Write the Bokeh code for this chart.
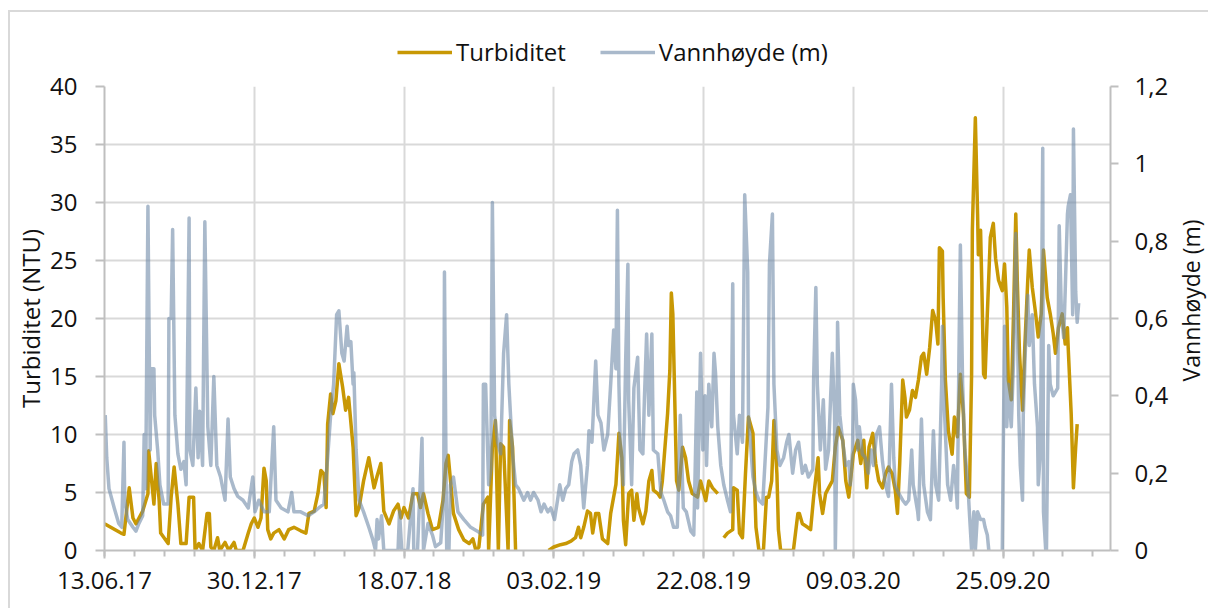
import math
import numpy as np
from bokeh.plotting import figure
from bokeh.layouts import column, row
from bokeh.models import Range1d, LinearAxis, FixedTicker, Legend, LegendItem
from bokeh.core.properties import value
from bokeh.embed import file_html
from bokeh.resources import INLINE

NaN = float("nan")

# x values: days after 13.06.17
x_tick_days = [0, 200, 400, 600, 800, 1000, 1200]
x_tick_labels = ["13.06.17", "30.12.17", "18.07.18", "03.02.19", "22.08.19", "09.03.20", "25.09.20"]
x_minor_days = list(range(0, 1341, 40))
x_end_day = 1343.5

left_ticks = [0, 5, 10, 15, 20, 25, 30, 35, 40]
left_labels = ["0", "5", "10", "15", "20", "25", "30", "35", "40"]
right_ticks = [0, 0.2, 0.4, 0.6, 0.8, 1, 1.2]
right_labels = ["0", "0,2", "0,4", "0,6", "0,8", "1", "1,2"]
left_title = "Turbiditet (NTU)"
right_title = "Vannhøyde (m)"
series_names = ["Turbiditet", "Vannhøyde (m)"]

# Turbiditet (NTU)
turb_day = [0, 22, 26, 33, 38, 42, 51, 58, 59, 62, 66, 69, 73, 75, 85, 89, 93, 98, 102, 109,
            113, 119, 121, 126, 131, 137, 140, 142, 146, 151, 154, 161, 166, 173, 176, 185, 192, 196, 200, 205,
            209, 213, 216, 218, 222, 226, 233, 240, 246, 253, 262, 269, 273, 280, 285, 289, 293, 296, 298, 302,
            305, 309, 313, 318, 322, 326, 332, 336, 340, 346, 353, 360, 364, 369, 373, 380, 386, 392, 396, 400,
            406, 412, 418, 422, 426, 432, 438, 446, 452, 456, 459, 463, 466, 473, 480, 487, 492, 496, 500, 506,
            512, 513, 518, 522, 526, 529, 533, 539, 541, 545, 549, 570, 593, 600, 609, 616, 623, 629, 633, 636,
            640, 645, 649, 652, 656, 660, 665, 672, 676, 683, 687, 691, 693, 696, 700, 704, 707, 711, 713, 719,
            723, 727, 731, 733, 739, 742, 745, 752, 755, 757, 759, 761, 764, 767, 772, 776, 780, 785, 792, 796,
            803, 807, 812, 819, 823, 827, 832, 839, 840, 845, 848, 852, 856, 860, 866, 870, 874, 880, 884, 887,
            891, 894, 898, 900, 903, 920, 926, 928, 932, 939, 943, 947, 953, 955, 959, 963, 967, 972, 976, 980,
            986, 990, 994, 1000, 1006, 1010, 1014, 1018, 1021, 1026, 1030, 1034, 1039, 1043, 1047, 1052, 1056, 1059, 1062, 1066,
            1069, 1071, 1075, 1079, 1083, 1087, 1091, 1094, 1098, 1102, 1106, 1110, 1113, 1115, 1119, 1120, 1123, 1127, 1132, 1135,
            1139, 1143, 1147, 1151, 1155, 1158, 1159, 1163, 1166, 1167, 1170, 1172, 1174, 1176, 1179, 1183, 1187, 1190, 1194, 1199,
            1202, 1205, 1207, 1211, 1214, 1217, 1219, 1222, 1226, 1229, 1233, 1235, 1239, 1243, 1247, 1251, 1254, 1259, 1263, 1267,
            1270, 1274, 1279, 1283, 1286, 1287, 1291, 1294, 1297, 1299]
turb_ntu = [2.3, 1.5, 1.4, 5.4, 2.8, 2.3, 3.4, 4.9, 8.6, 6.6, 4.0, 7.5, 4.3, 1.5, 0.6, 4.6, 7.2, 4.0, 0.6, 0.6,
            4.6, 4.6, 0, 0.6, 0, 3.2, 3.2, 0.3, 0, 1.1, 0, 0.7, 0, 0.7, 0, 0, 1.5, 2.3, 2.8, 2.0,
            2.8, 7.1, 6.0, 1.8, 1.0, 1.5, 1.8, 1.0, 1.8, 2.0, 1.7, 1.5, 3.2, 3.4, 4.9, 6.9, 6.6, 3.7, 10.9, 13.5,
            11.8, 12.9, 16.1, 14.1, 12.1, 13.2, 8.9, 3.0, 3.7, 6.0, 8.0, 5.4, 6.4, 7.5, 3.4, 2.3, 3.4, 4.0, 2.8, 3.7,
            2.8, 4.9, 4.9, 3.7, 4.9, 3.2, 1.8, 2.0, 4.3, 7.5, 8.2, 5.4, 3.2, 1.8, 0.9, 0.6, 1.0, 0, 0.3, 4.0,
            4.6, 0, 8.9, 11.2, 0, 9.2, 8.9, 0, 11.2, 8.9, 0, NaN, 0, 0.3, 0.5, 0.6, 0.8, 1.1, 2.0, 1.1,
            2.0, 3.4, 3.2, 1.5, 3.2, 3.2, 1.0, 0.6, 3.2, 5.7, 10.1, 8.0, 2.6, 0.5, 4.9, 5.2, 2.6, 4.9, 3.7, 2.3,
            3.4, 6.0, 6.9, 5.2, 4.9, 4.6, 6.0, 11.8, 15.5, 22.2, 20.4, 14.7, 6.0, 5.2, 8.9, 8.0, 6.0, 4.9, 4.6, 6.0,
            4.3, 6.0, 5.4, 4.9, NaN, 1.1, 1.5, 1.8, 5.4, 5.2, 1.5, 1.1, 6.6, 11.5, 10.1, 2.0, 0, 0, 4.6, 4.6,
            6.0, 11.2, 6.6, 1.8, 0, 0, 3.2, 3.2, 2.3, 2.0, 1.8, 4.6, 8.0, 4.9, 3.2, 4.9, 5.4, 6.0, 8.9, 10.6,
            9.5, 6.0, 4.6, 8.3, 9.5, 7.5, 9.5, 5.4, 8.9, 10.1, 7.5, 6.0, 5.4, 6.6, 7.2, 6.6, 5.2, 3.2, 7.5, 14.7,
            13.2, 11.5, 12.1, 13.8, 13.2, 14.7, 16.7, 17.0, 15.2, 17.5, 20.7, 19.8, 17.8, 26.1, 25.8, 21.8, 14.7, 10.3, 8.3, 11.5,
            9.8, 15.2, 11.8, 4.9, 4.6, 15.2, 27.6, 37.3, 29.0, 25.5, 27.6, 21.8, 15.2, 14.9, 20.4, 27.0, 28.2, 25.2, 23.3, 22.4,
            24.7, 21.0, 14.7, 13.0, 20.4, 29.0, 23.3, 17.0, 12.1, 17.5, 23.3, 25.9, 22.7, 20.7, 18.4, 20.4, 25.9, 21.8, 20.4, 18.7,
            17.0, 19.2, 20.4, 17.8, 19.2, 17.5, 11.8, 5.4, 8.9, 10.9]

# Vannhøyde (m)
level_day = [1, 3, 6, 13, 19, 23, 26, 27, 31, 38, 42, 46, 51, 53, 55, 58, 61, 62, 66, 67,
             71, 74, 79, 85, 86, 89, 91, 94, 98, 102, 106, 109, 113, 114, 118, 122, 125, 127, 131, 134,
             138, 142, 146, 150, 155, 161, 165, 168, 173, 178, 185, 192, 198, 201, 206, 213, 220, 226, 229, 236,
             245, 250, 253, 262, 272, 280, 286, 293, 298, 302, 306, 310, 313, 317, 320, 324, 326, 329, 332, 333,
             336, 340, 346, 353, 358, 362, 364, 366, 370, 373, 392, 394, 397, 405, 412, 413, 418, 424, 426, 432,
             438, 442, 449, 453, 454, 457, 460, 462, 466, 472, 480, 489, 498, 505, 506, 509, 513, 516, 518, 521,
             525, 529, 533, 537, 540, 545, 549, 553, 560, 565, 569, 573, 579, 583, 587, 592, 596, 601, 605, 608,
             612, 616, 620, 624, 627, 632, 636, 640, 645, 647, 651, 656, 659, 663, 667, 672, 676, 680, 683, 685,
             687, 689, 693, 696, 699, 700, 704, 707, 712, 715, 719, 721, 724, 727, 731, 733, 739, 743, 747, 752,
             756, 760, 765, 769, 773, 777, 783, 787, 791, 792, 796, 799, 802, 804, 807, 811, 814, 816, 819, 823,
             827, 832, 836, 839, 840, 845, 848, 852, 855, 859, 860, 866, 870, 874, 879, 883, 886, 888, 892, 894,
             898, 902, 907, 911, 914, 919, 923, 927, 932, 936, 940, 946, 947, 950, 952, 956, 960, 963, 967, 972,
             975, 976, 978, 979, 982, 986, 990, 994, 996, 999, 1000, 1003, 1006, 1008, 1012, 1016, 1020, 1024, 1027, 1031,
             1035, 1039, 1043, 1047, 1051, 1054, 1056, 1060, 1066, 1070, 1074, 1078, 1080, 1086, 1087, 1091, 1094, 1099, 1103, 1107,
             1110, 1114, 1118, 1119, 1122, 1126, 1130, 1134, 1137, 1139, 1141, 1143, 1146, 1149, 1153, 1155, 1158, 1161, 1163, 1166,
             1170, 1174, 1176, 1179, 1181, 1183, 1191, 1199, 1200, 1202, 1205, 1207, 1211, 1214, 1217, 1219, 1221, 1223, 1226, 1227,
             1230, 1233, 1235, 1239, 1242, 1246, 1247, 1250, 1253, 1254, 1257, 1258, 1261, 1263, 1267, 1273, 1275, 1278, 1281, 1283,
             1286, 1287, 1290, 1293, 1294, 1297, 1299, 1301]
level_m = [0.35, 0.24, 0.16, 0.11, 0.07, 0.06, 0.28, 0.13, 0.08, 0.06, 0.05, 0.07, 0.09, 0.30, 0.16, 0.89, 0.26, 0.47, 0.47, 0.35,
           0.26, 0.17, 0.12, 0.12, 0.60, 0.60, 0.83, 0.35, 0.25, 0.21, 0.23, 0.17, 0.86, 0.26, 0.22, 0.42, 0.24, 0.36, 0.22, 0.85,
           0.32, 0.22, 0.45, 0.22, 0.19, 0.13, 0.34, 0.19, 0.16, 0.14, 0.13, 0.11, 0.19, 0.10, 0.13, 0.10, 0.10, 0.32, 0.13, 0.11,
           0.10, 0.15, 0.10, 0.10, 0.09, 0.10, 0.11, 0.12, 0.24, 0.35, 0.43, 0.61, 0.62, 0.51, 0.49, 0.58, 0.53, 0.54, 0.43, 0.46,
           0.26, 0.13, 0.10, 0.06, 0.03, 0, 0.08, 0.03, 0.09, 0, 0, 0.10, 0, 0, 0.16, 0, 0, 0.29, 0, 0.07,
           0.04, 0.01, 0.02, 0.14, 0.72, 0, 0, 0.17, 0.19, 0.10, 0.08, 0.06, 0.05, 0.04, 0.43, 0.43, 0.17, 0.21, 0.90, 0.35,
           0.28, 0.25, 0.51, 0.61, 0.43, 0.25, 0.17, 0.16, 0.13, 0.15, 0.13, 0.15, 0.13, 0.10, 0.12, 0.10, 0.11, 0.08, 0.13, 0.17,
           0.13, 0.16, 0.17, 0.23, 0.25, 0.26, 0.22, 0.11, 0.22, 0.31, 0.28, 0.49, 0.35, 0.33, 0.26, 0.30, 0.43, 0.57, 0.47, 0.88,
           0.43, 0.26, 0.17, 0.49, 0.74, 0.39, 0.17, 0.42, 0.50, 0.26, 0.25, 0.39, 0.56, 0.35, 0.56, 0.26, 0.25, 0.15, 0.13, 0.10,
           0.09, 0.06, 0.06, 0.35, 0.11, 0.10, 0.05, 0.04, 0.41, 0.11, 0.51, 0.26, 0.40, 0.22, 0.43, 0.32, 0.51, 0.46, 0.32, 0.22,
           0.17, 0.13, 0.10, 0.69, 0.35, 0.25, 0.35, 0.28, 0.92, 0.72, 0.35, 0.19, 0.15, 0.13, 0.12, 0.26, 0.37, 0.74, 0.87, 0.43,
           0.26, 0.22, 0.24, 0.28, 0.30, 0.20, 0.26, 0.28, 0.20, 0.22, 0.19, 0.21, 0.44, 0.68, 0.43, 0.26, 0.39, 0.21, 0.26, 0.51,
           0.35, 0, 0.26, 0.59, 0.35, 0.28, 0.22, 0.23, 0.17, 0.26, 0.43, 0.39, 0.26, 0.32, 0.25, 0.24, 0.20, 0.26, 0.22, 0.30,
           0.32, 0.23, 0.17, 0.14, 0.43, 0.24, 0.17, 0.15, 0.13, 0.12, 0.13, 0.26, 0.17, 0.10, 0.08, 0.34, 0.17, 0.10, 0.08, 0.31,
           0.17, 0.13, 0.43, 0.58, 0.35, 0.17, 0.13, 0.22, 0.17, 0.11, 0.49, 0.79, 0.43, 0.26, 0.17, 0.10, 0, 0.10, 0, 0.10,
           0.08, 0.08, 0.06, 0.04, 0, 0, NaN, 0, 0.21, 0.58, 0.32, 0.43, 0.32, 0.49, 0.82, 0.61, 0.35, 0.22, 0.13, 0.35,
           0.53, 0.66, 0.53, 0.61, 0.43, 0.32, 0.17, 0.26, 1.04, 0.10, 0, 0, 0.53, 0.43, 0.40, 0.42, 0.84, 0.61, 0.55, 0.67,
           0.87, 0.89, 0.92, 0.61, 1.09, 0.67, 0.59, 0.64]

FONT = "Open Sans"
TXT = "#111111"
GRID = "#d9d9d9"
AXIS = "#bfbfbf"
GOLD = "#C89804"
BLUE = "#708AA8"
BLUE_ALPHA = 0.6
LW = 3.5
LEG_H = 70
TITLE_W = 36

# ---------------- main plot ----------------
p = figure(width=1208 - TITLE_W, height=608 - LEG_H, output_backend="svg", toolbar_location=None,
           x_range=Range1d(0, x_end_day), y_range=Range1d(0, 40),
           min_border_left=104, min_border_right=1208 - TITLE_W - 1110,
           min_border_top=86 - LEG_H, min_border_bottom=58,
           background_fill_color="white", border_fill_alpha=0)
p.outline_line_color = None
p.extra_y_ranges = {"lvl": Range1d(0, 1.2)}

gold = p.line(np.array(turb_day, dtype=float), np.array(turb_ntu, dtype=float),
              line_color=GOLD, line_width=LW, line_join="round")
blue = p.line(np.array(level_day, dtype=float), np.array(level_m, dtype=float),
              y_range_name="lvl", line_color=BLUE, line_alpha=BLUE_ALPHA, line_width=LW, line_join="round")

p.xgrid.ticker = FixedTicker(ticks=x_tick_days)
p.ygrid.ticker = FixedTicker(ticks=left_ticks)
for g in (p.xgrid[0], p.ygrid[0]):
    g.grid_line_color = GRID
    g.grid_line_width = 2

xa = p.xaxis[0]
xa.ticker = FixedTicker(ticks=x_tick_days, minor_ticks=x_minor_days)
xa.major_label_overrides = dict(zip(x_tick_days, x_tick_labels))
xa.major_tick_out = 8
xa.major_tick_in = 0
xa.minor_tick_out = 6
xa.minor_tick_in = 0
xa.major_label_standoff = 13

ya = p.yaxis[0]
ya.ticker = FixedTicker(ticks=left_ticks)
ya.major_label_overrides = dict(zip(left_ticks, left_labels))
ya.axis_label = left_title
ya.major_tick_out = 9
ya.major_tick_in = 0
ya.major_label_standoff = 18
ya.axis_label_standoff = 0

ra = LinearAxis(y_range_name="lvl", ticker=FixedTicker(ticks=right_ticks))
ra.major_label_overrides = dict(zip(right_ticks, right_labels))
ra.major_tick_out = 8
ra.major_tick_in = 0
ra.major_label_standoff = 16
p.add_layout(ra, "right")

for ax in (xa, ya, ra):
    ax.axis_line_color = AXIS
    ax.axis_line_width = 2
    ax.major_tick_line_color = AXIS
    ax.major_tick_line_width = 2
    ax.minor_tick_line_color = AXIS if ax is xa else None
    ax.minor_tick_line_width = 2
    ax.major_label_text_font = FONT
    ax.major_label_text_font_size = "24px"
    ax.major_label_text_color = TXT
    ax.axis_label_text_font = FONT
    ax.axis_label_text_font_size = "24px"
    ax.axis_label_text_font_style = "normal"
    ax.axis_label_text_color = TXT

# ---------------- legend strip (top) ----------------
leg_fig = figure(width=1208, height=LEG_H, output_backend="svg", toolbar_location=None,
                 x_axis_type=None, y_axis_type=None, min_border=0,
                 x_range=Range1d(0, 1), y_range=Range1d(0, 1),
                 background_fill_alpha=0, border_fill_alpha=0)
leg_fig.outline_line_color = None
leg_fig.xgrid.visible = False
leg_fig.ygrid.visible = False
# legend proxies: same styles as the data lines, placed outside the strip's visible range
lg_gold = leg_fig.line(x=[-3, -2], y=[-3, -3], line_color=GOLD, line_width=LW)
lg_blue = leg_fig.line(x=[-3, -2], y=[-3, -3], line_color=BLUE, line_alpha=BLUE_ALPHA, line_width=LW)
legend = Legend(items=[LegendItem(label=series_names[0], renderers=[lg_gold]),
                       LegendItem(label=series_names[1], renderers=[lg_blue])],
                orientation="horizontal", location=(397, 2))
legend.label_text_font = FONT
legend.label_text_font_size = "24px"
legend.label_text_color = TXT
legend.glyph_width = 55
legend.glyph_height = 24
legend.label_standoff = 4
legend.spacing = 34
legend.padding = 0
legend.margin = 0
legend.border_line_color = None
legend.background_fill_alpha = 0
leg_fig.add_layout(legend, "center")

# ---------------- right axis title strip ----------------
tfig = figure(width=TITLE_W, height=608 - LEG_H, output_backend="svg", toolbar_location=None,
              x_axis_type=None, y_axis_type=None, min_border=0,
              x_range=Range1d(0, TITLE_W), y_range=Range1d(0, 608 - LEG_H),
              background_fill_alpha=0, border_fill_alpha=0)
tfig.outline_line_color = None
tfig.xgrid.visible = False
tfig.ygrid.visible = False
tfig.text(x=[18], y=[608 - 318], text=[right_title], angle=math.pi / 2,
          text_align="center", text_baseline="middle",
          text_font=value(FONT), text_font_size="23px", text_color=TXT)

layout = column(leg_fig, row(p, tfig, spacing=0), spacing=0,
                styles={"background": "linear-gradient(#d9d9d9,#d9d9d9) 8px 10px / 2px 100% no-repeat, "
                                      "linear-gradient(#d9d9d9,#d9d9d9) 8px 10px / 100% 2px no-repeat"})

open("out.html", "w").write(file_html(layout, INLINE))
